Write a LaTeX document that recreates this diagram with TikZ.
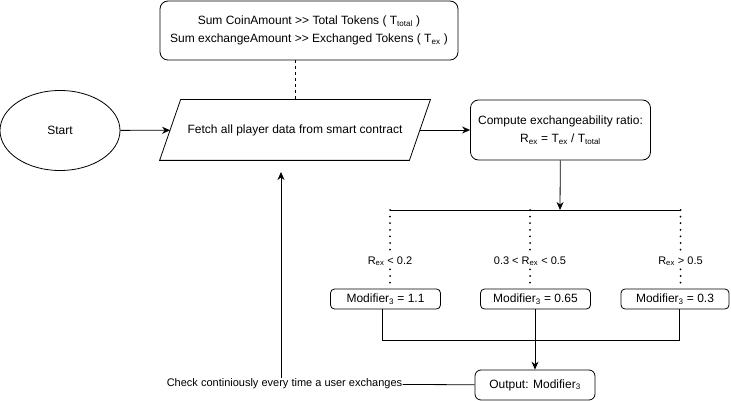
\documentclass[tikz,border=0pt]{standalone}
\usepackage{fontspec}
\setmainfont{Liberation Sans}
\usetikzlibrary{shapes.geometric,arrows.meta}

\begin{document}
\begin{tikzpicture}[
 x=1pt,y=-1pt,line width=0.8pt,
 >={Stealth[length=8pt,width=7pt]},
 every node/.style={font=\fontsize{12}{18}\selectfont},
 box/.style={draw,rounded corners=8pt,align=center,inner sep=2pt},
 mod/.style={draw,rounded corners=4pt,minimum width=110,minimum height=20,inner sep=0pt},
 cond/.style={fill=white,inner sep=1pt,font=\fontsize{11}{13}\selectfont},
 link/.style={line width=2pt,line cap=round,dash pattern=on 0pt off 6.6pt}
]
 \useasboundingbox (0,0) rectangle (731,401);
 \node[box,minimum width=298,minimum height=59] (sum) at (309,30.5)
  {Sum CoinAmount >{}> Total Tokens ( T\textsubscript{total} )\\Sum exchangeAmount >{}> Exchanged Tokens ( T\textsubscript{ex} )};
 \node[ellipse,draw,minimum width=120,minimum height=80] (start) at (60,130.5) {Start};
 \node[minimum width=249,minimum height=60] (fetch) at (295,130)
  {Fetch all player data from smart contract};
 % parallelogram round the fetch node
 \draw ([xshift=-10.5pt]fetch.south west) -- ([xshift=10.5pt]fetch.north west)
  -- ([xshift=10.5pt]fetch.north east) -- ([xshift=-10.5pt]fetch.south east) -- cycle;
 \node[box,minimum width=180,minimum height=60] (ratio) at (560.5,130)
  {Compute exchangeability ratio:\\R\textsubscript{ex} = T\textsubscript{ex} / T\textsubscript{total}};
 \coordinate (split) at (560,210);
 \coordinate (b1) at (390,210);
 \coordinate (b2) at (530,210);
 \coordinate (b3) at (680.5,210);
 \node[mod] (m1) at (385.5,299) {Modifier\textsubscript{3} = 1.1};
 \node[mod] (m2) at (535.5,299) {Modifier\textsubscript{3} = 0.65};
 \node[mod,minimum width=108] (m3) at (675,299) {Modifier\textsubscript{3} = 0.3};
 \coordinate (join) at (535,340);
 \node[box,rounded corners=6pt,minimum width=120,minimum height=30] (out) at (535,385) {Output: Modifier\textsubscript{3}};
 \node[font=\fontsize{11}{13}\selectfont,inner sep=0pt] (check) at (284.5,384) {Check continiously every time a user exchanges};
 \coordinate (back) at (281,172);

 \draw[dash pattern=on 3pt off 3pt] (sum.south -| fetch.north) -- (fetch.north);
 \draw[->] (start) -- (fetch);
 \draw[->] (fetch) -- (ratio);
 \draw[->] (ratio) -- (split);
 \draw (b1) -- (b3);
 \draw[link] (b1) -- node[cond,pos=0.65] {R\textsubscript{ex} < 0.2} (b1 |- m1.north);
 \draw[link] (b2) -- node[cond,pos=0.65] {0.3 < R\textsubscript{ex} < 0.5} (b2 |- m2.north);
 \draw[link] (b3) -- node[cond,pos=0.65] {R\textsubscript{ex} > 0.5} (b3 |- m3.north);
 \draw ([xshift=-3.5pt]m1.south) -- ([xshift=-3.5pt]m1.south |- join) -- ([xshift=4pt]m3.south |- join) -- ([xshift=4pt]m3.south);
 \draw[->] (m2.south -| join) -- (out);
 \draw (check) -- (out);
 \draw[->] (check.north -| back) -- (back);
\end{tikzpicture}
\end{document}
